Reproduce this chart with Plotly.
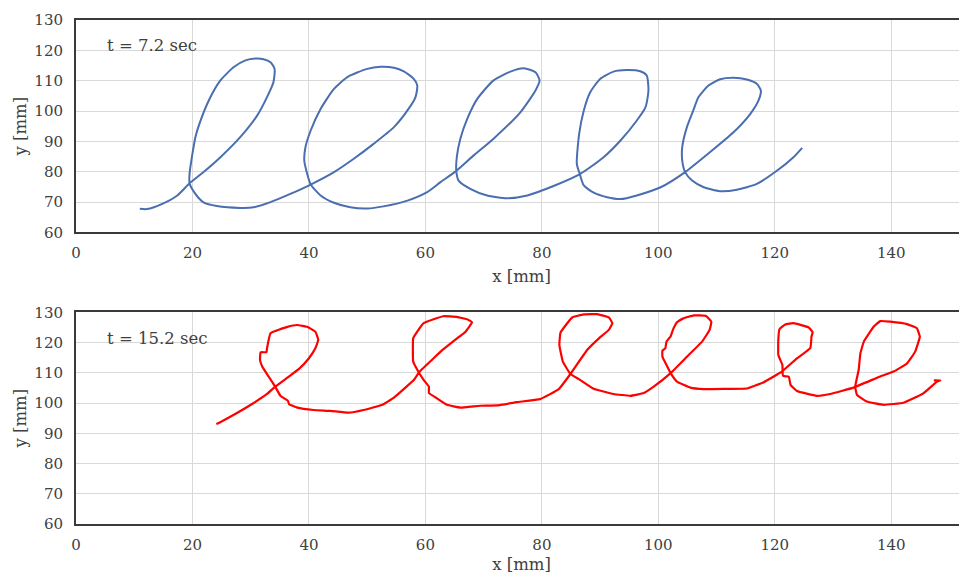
import plotly.graph_objects as go
from plotly.subplots import make_subplots

# ---- data: pen trajectory at t = 7.2 sec (blue) ----
x_72 = [10.95, 12.2, 15.1, 17.4, 19.5, 21.9, 24.8, 28.2, 31.1, 32.8, 33.9, 34.1, 33.4, 32.2, 30.8,
        29.1, 27.1, 24.8, 22.8, 21.1, 20.5, 19.9, 19.5, 19.5, 20.5, 21.9, 24.2, 28.2, 30.5, 33.4,
        36.8, 40.3, 44.3, 47.7, 51.1, 54.6, 57.1, 58.3, 58.6, 58.0, 56.3, 54.6, 52.3, 50.0, 46.6,
        44.3, 42.0, 40.3, 39.4, 39.2, 39.7, 40.3, 42.0, 44.3, 47.1, 50.0, 52.8, 56.9, 60.3, 62.6, 65.3,
        68.3, 71.7, 76.3, 78.9, 79.6, 78.9, 76.9, 74.6, 71.7, 68.9, 67.2, 66.0, 65.4, 65.3, 65.7,
        67.7, 70.6, 74.0, 77.5, 82.0, 86.6,
        90.6, 93.5, 96.3, 97.8, 98.3, 98.0, 96.9, 94.6, 92.3, 90.0, 88.3, 87.2, 86.4, 86.0, 86.5,
        87.2, 88.9, 91.2, 93.5, 96.3, 100.4, 104.6,
        108.9, 112.9, 115.8, 117.2, 117.6, 116.9, 115.2, 112.9, 110.6, 108.6, 106.9, 106.0, 104.9,
        104.1, 104.1, 104.6, 105.8, 107.8, 110.6, 113.5, 116.9, 120.4, 123.2, 124.7]
y_72 = [67.8, 67.7, 69.7, 72.2, 76.2, 79.9, 84.8, 91.4, 98.5, 104.6, 109.5, 113.9, 116.1, 117.1, 117.3,
        116.7, 114.5, 110.1, 103.5, 95.3, 91.4, 84.8, 79.3, 76.2, 72.7, 69.9, 68.7, 68.1, 68.3, 70.0,
        72.7, 75.8, 79.9, 84.3, 89.2, 94.7, 100.7, 104.6, 108.4, 110.6, 113.1, 114.3, 114.6, 113.9, 111.2,
        107.3, 100.7, 93.6, 88.1, 83.7, 79.3, 75.8, 72.2, 69.8, 68.3, 67.9, 68.6, 70.5, 73.3, 76.6, 80.3,
        85.4, 90.9, 99.6, 106.8, 110.1, 112.8, 114.1, 113.0, 110.1, 104.0, 97.5, 90.9, 85.0, 80.3, 77.1,
        74.4, 72.2, 71.3, 72.2, 75.3, 79.3,
        84.8, 90.3, 96.9, 101.3, 106.8, 111.7, 113.1, 113.5, 113.0, 110.6, 106.2, 100.2, 92.5, 82.6, 79.3,
        75.5, 73.1, 71.6, 71.0, 72.2, 74.9, 79.9,
        86.5, 93.0, 99.1, 103.5, 106.8, 109.0, 110.4, 111.0, 110.5, 108.4, 104.6, 100.2, 94.7,
        88.1, 83.7, 79.9, 77.1, 74.9, 73.6, 74.1, 76.0, 80.4, 84.8, 87.9]

# ---- data: pen trajectory at t = 15.2 sec (red) ----
x_152 = [24.1, 24.6, 27.1, 30.5, 32.8, 34.2, 36.3, 38.3, 40.0, 41.1, 41.6, 41.1, 39.7, 38.0, 36.3, 33.4,
         32.8, 32.7, 31.7, 31.6, 32.0, 33.1, 34.2, 35.1, 36.4, 36.6, 38.0, 40.8, 43.7, 46.8, 49.4, 52.6,
         54.6, 58.0, 59.0, 61.4, 63.1, 65.1, 66.9, 68.0, 67.4, 65.4, 63.1, 61.4, 59.7, 58.6, 57.9, 57.9,
         58.6, 59.6, 60.6, 60.6, 61.7, 63.7, 66.0, 69.4, 72.3, 75.7, 79.7, 82.9, 84.9, 87.8, 89.8, 91.5,
         92.1, 91.5, 89.5, 87.2, 85.2, 83.2, 83.0, 83.6, 84.9, 86.6, 88.9, 92.3, 95.2, 97.5, 99.2, 102.1,
         104.9, 107.5, 108.8, 109.1, 108.2, 106.1, 104.3, 103.2, 102.5, 102.1, 101.4, 101.2, 100.7, 100.7,
         101.4, 102.1, 103.2, 105.5, 107.8, 111.8, 115.2, 118.1, 121.2, 123.5, 126.1, 126.3, 126.5, 125.8,
         123.2, 121.8, 120.8, 120.6, 120.6, 121.3, 121.4, 122.4, 122.7, 123.8, 127.2, 129.5,
         133.5, 138.1, 140.4, 142.7, 144.1, 144.9, 144.4, 142.7, 139.8, 138.1, 137.0, 135.3, 134.7,
         134.4, 133.8, 134.1, 135.8, 138.7, 142.1, 145.5, 147.8, 148.4, 147.3]
y_152 = [93.1, 93.5, 96.1, 100.0, 103.0, 105.4, 108.4, 111.3, 114.8, 118.1, 120.9, 123.6, 125.2, 125.8, 125.2, 123.1,
         118.1, 116.8, 116.8, 114.3, 112.0, 108.7, 105.4, 102.4, 100.7, 99.6, 98.5, 97.7, 97.4, 96.8, 97.7, 99.4,
         101.8, 107.6, 110.4, 114.8, 117.8, 120.9, 123.6, 126.7, 127.5, 128.5, 128.7, 127.7, 126.4, 123.6, 121.4, 113.7,
         111.0, 107.9, 105.4, 103.3, 101.9, 99.4, 98.5, 99.1, 99.2, 100.3, 101.3, 104.6, 109.6, 117.6, 121.4, 124.2,
         126.4, 128.3, 129.4, 129.3, 128.3, 123.3, 119.2, 113.7, 109.6, 107.6, 104.7, 103.0, 102.4, 103.3, 105.4, 109.9,
         115.3, 120.3, 124.2, 126.9, 128.8, 129.0, 128.0, 126.7, 124.2, 122.0, 120.3, 118.1, 117.3, 115.3,
         112.6, 109.9, 107.1, 105.1, 104.6, 104.7, 104.8, 106.9, 110.4, 114.3, 118.2, 122.0, 123.4, 125.0,
         126.4, 126.0, 124.4, 120.9, 115.9, 112.6, 109.0, 108.7, 106.0, 104.0, 102.4, 103.0,
         105.1, 108.8, 110.4, 113.1, 117.0, 121.9, 124.7, 126.1, 126.9, 127.1, 125.3, 120.4, 116.5,
         111.0, 105.4, 102.7, 100.5, 99.4, 100.1, 103.2, 107.0, 107.5, 107.5]

labels = ["t = 7.2 sec", "t = 15.2 sec"]
x_ticks = [0, 20, 40, 60, 80, 100, 120, 140]
y_ticks = [60, 70, 80, 90, 100, 110, 120, 130]

FONT = "DejaVu Serif"
TXT = "#404040"

fig = make_subplots(rows=2, cols=1, vertical_spacing=0.0)
fig.add_trace(go.Scatter(x=x_72, y=y_72, mode="lines",
                         line=dict(color="#4A6EB0", width=2, shape="spline", smoothing=0.6),
                         showlegend=False), row=1, col=1)
fig.add_trace(go.Scatter(x=x_152, y=y_152, mode="lines",
                         line=dict(color="#FF0000", width=2.2, shape="spline", smoothing=0.3),
                         showlegend=False), row=2, col=1)

axis_common = dict(showgrid=True, gridcolor="#D9D9D9", gridwidth=1, zeroline=False, automargin=False,
                   tickfont=dict(family=FONT, size=15, color=TXT))
for r in (1, 2):
    fig.update_xaxes(range=[0, 153], tickvals=x_ticks, showline=True, mirror=True,
                     linecolor="#3A3A3A", linewidth=2, ticks="", ticklabelstandoff=6,
                     title=dict(text="x [mm]", font=dict(family=FONT, size=16.5, color=TXT), standoff=9),
                     **axis_common, row=r, col=1)
    fig.update_yaxes(range=[60, 130], tickvals=y_ticks, showline=True, mirror=False,
                     linecolor="#3A3A3A", linewidth=2, ticks="", ticklabelstandoff=8,
                     title=dict(text="y [mm]", font=dict(family=FONT, size=16.5, color=TXT), standoff=4),
                     **axis_common, row=r, col=1)

# page body adds an 8px offset, so the figure is laid out 8px smaller
fig.update_layout(
    width=959, height=566,
    margin=dict(l=67.5, r=0, t=11.5, b=49.7),
    paper_bgcolor="white", plot_bgcolor="white",
    xaxis=dict(domain=[0, 1]), yaxis=dict(domain=[0.5784, 1.0]),
    xaxis2=dict(domain=[0, 1]), yaxis2=dict(domain=[0.0, 0.42]),
    annotations=[
        dict(x=5.0, y=121.6, xref="x", yref="y", text=labels[0], showarrow=False, xanchor="left",
             font=dict(family=FONT, size=16.5, color=TXT)),
        dict(x=5.0, y=121.4, xref="x2", yref="y2", text=labels[1], showarrow=False, xanchor="left",
             font=dict(family=FONT, size=16.5, color=TXT)),
    ],
)

fig.write_html("out.html")
